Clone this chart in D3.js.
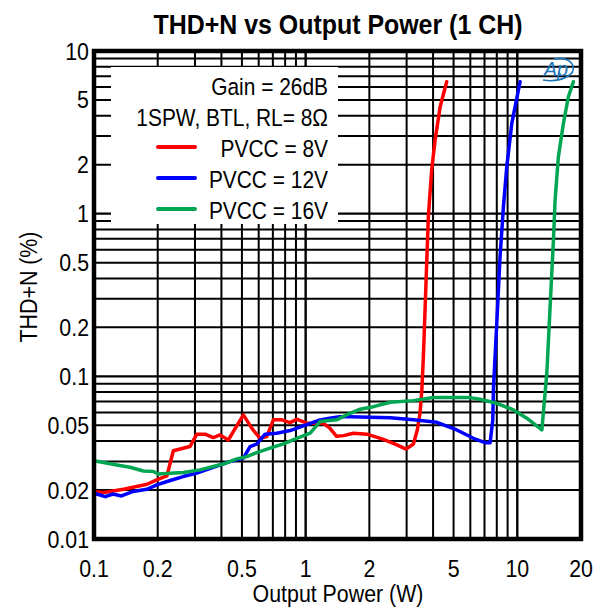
<!DOCTYPE html>
<html><head><meta charset="utf-8">
<script src="https://cdn.jsdelivr.net/npm/d3@7"></script>
<style>html,body{margin:0;padding:0;background:#fff;} svg{display:block;}</style>
</head><body>
<svg id="chart" width="606" height="608"></svg>
<script>
// ---------- data ----------
const titleText = "THD+N vs Output Power (1 CH)";
const xLabel = "Output Power (W)";
const yLabel = "THD+N (%)";
const xTickValues = [0.1, 0.2, 0.5, 1, 2, 5, 10, 20];
const xTickLabels = ["0.1", "0.2", "0.5", "1", "2", "5", "10", "20"];
const yTickValues = [0.01, 0.02, 0.05, 0.1, 0.2, 0.5, 1, 2, 5, 10];
const yTickLabels = ["0.01", "0.02", "0.05", "0.1", "0.2", "0.5", "1", "2", "5", "10"];
const xGridValues = [0.2, 0.3, 0.4, 0.5, 0.6, 0.7, 0.8, 0.9, 1, 2, 3, 4, 5, 6, 7, 8, 9, 10];
const yGridValues = [0.02, 0.03, 0.04, 0.05, 0.06, 0.07, 0.08, 0.09, 0.1,
                     0.2, 0.3, 0.4, 0.5, 0.6, 0.7, 0.8, 0.9, 1,
                     2, 3, 4, 5, 6, 7, 8, 9];
const legendNotes = ["Gain = 26dB", "1SPW, BTL, RL= 8Ω"];
const seriesNames = ["PVCC = 8V", "PVCC = 12V", "PVCC = 16V"];

// [output power W, THD+N %]
const pvcc8 = [
  [0.100,0.0196],[0.111,0.0193],[0.138,0.0202],[0.159,0.0210],[0.178,0.0217],
  [0.198,0.0231],[0.221,0.0244],[0.237,0.0349],[0.284,0.0370],[0.306,0.0441],
  [0.335,0.0441],[0.366,0.0420],[0.394,0.0436],[0.431,0.0406],[0.508,0.0579],
  [0.556,0.0480],[0.609,0.0416],[0.655,0.0426],[0.704,0.0540],[0.771,0.0540],
  [0.844,0.0519],[0.908,0.0545],[1.01,0.0515],[1.21,0.0515],[1.30,0.0480],
  [1.40,0.0428],[1.51,0.0432],[1.68,0.0447],[1.95,0.0441],[2.33,0.0410],
  [2.70,0.0379],[2.98,0.0357],[3.23,0.0384],[3.37,0.0468],[3.47,0.0593],
  [3.54,0.0825],[3.60,0.132],[3.67,0.268],[3.80,0.958],[3.94,1.856],
  [4.09,2.838],[4.32,4.545],[4.64,6.476]
];
const pvcc12 = [
  [0.100,0.0187],[0.103,0.0189],[0.113,0.0182],[0.123,0.0189],[0.135,0.0184],
  [0.153,0.0196],[0.178,0.0202],[0.198,0.0215],[0.229,0.0229],[0.264,0.0242],
  [0.306,0.0254],[0.366,0.0276],[0.439,0.0299],[0.508,0.0314],[0.546,0.0370],
  [0.587,0.0383],[0.643,0.0441],[0.730,0.0447],[0.844,0.0464],[0.975,0.0496],
  [1.17,0.0540],[1.30,0.0553],[1.45,0.0565],[1.62,0.0565],[2.51,0.0557],
  [3.23,0.0540],[4.17,0.0522],[5.18,0.0468],[6.20,0.0416],[7.04,0.0391],
  [7.44,0.0391],[7.66,0.0540],[7.71,0.0825],[8.00,0.212],[8.29,0.544],
  [8.60,1.104],[8.92,1.944],[9.42,3.594],[10.31,6.476]
];
const pvcc16 = [
  [0.100,0.0303],[0.111,0.0295],[0.128,0.0285],[0.148,0.0276],[0.171,0.0262],
  [0.191,0.0260],[0.201,0.0251],[0.229,0.0254],[0.264,0.0256],[0.317,0.0266],
  [0.366,0.0279],[0.408,0.0289],[0.473,0.0311],[0.527,0.0321],[0.587,0.0340],
  [0.679,0.0362],[0.785,0.0384],[0.908,0.0416],[1.05,0.0447],[1.17,0.0527],
  [1.26,0.0534],[1.40,0.0540],[1.56,0.0579],[1.81,0.0628],[2.09,0.0651],
  [2.51,0.0693],[3.23,0.0709],[4.01,0.0740],[5.98,0.0740],[6.67,0.0723],
  [8.00,0.0683],[9.59,0.0622],[11.09,0.0553],[13.06,0.0468],[13.79,0.1045],
  [14.29,0.268],[14.82,0.689],[15.09,1.214],[15.64,2.239],[16.52,3.594],
  [17.44,5.237],[18.41,6.476]
];
const seriesData = [pvcc8, pvcc12, pvcc16];

// ---------- styles / layout ----------
const colors = ["#ff0000", "#0000ff", "#00a651"];
const FONT = "'Liberation Sans', Arial, sans-serif";
const SX = 0.89; // horizontal condensation of text
const plot = {left: 94, right: 581, top: 51, bottom: 539};

const svg = d3.select("#chart");
const x = d3.scaleLog().domain([0.1, 20]).range([plot.left, plot.right]);
const y = d3.scaleLog().domain([0.01, 10]).range([plot.bottom, plot.top]);

function label(parent, tx, ty, str, opts = {}) {
  const g = parent.append("g")
    .attr("transform", `translate(${tx},${ty})${opts.rotate ? ` rotate(${opts.rotate})` : ""} scale(${SX},1)`);
  g.append("text")
    .attr("x", 0).attr("y", 0)
    .attr("text-anchor", opts.anchor || "middle")
    .attr("font-family", FONT)
    .attr("font-size", opts.size || 24)
    .attr("font-weight", opts.weight || "normal")
    .attr("fill", opts.fill || "#000")
    .text(str);
  return g;
}

// grid
const grid = svg.append("g");
grid.selectAll("line.vx").data(xGridValues).join("line")
  .attr("x1", d => x(d)).attr("x2", d => x(d))
  .attr("y1", plot.top).attr("y2", plot.bottom)
  .attr("stroke", "#000").attr("stroke-width", d => (d === 1 || d === 10) ? 2.4 : 2);
grid.selectAll("line.hy").data(yGridValues).join("line")
  .attr("y1", d => y(d)).attr("y2", d => y(d))
  .attr("x1", plot.left).attr("x2", plot.right)
  .attr("stroke", "#000").attr("stroke-width", d => (d === 0.1 || d === 1) ? 2.4 : 2);

// legend box (covers grid)
const leg = svg.append("g");
leg.append("rect").attr("x", 111).attr("y", 67).attr("width", 227).attr("height", 157).attr("fill", "#fff");
legendNotes.forEach((t, i) => label(leg, 328, 95 + i * 31, t, {anchor: "end", size: 23.5}));
seriesNames.forEach((t, i) => {
  const by = 157 + i * 31;
  leg.append("line").attr("x1", 158).attr("x2", 195).attr("y1", by - 10).attr("y2", by - 10)
    .attr("stroke", colors[i]).attr("stroke-width", 4).attr("stroke-linecap", "round");
  label(leg, 328, by, t, {anchor: "end", size: 23.5});
});

// curves
const line = d3.line().x(d => x(d[0])).y(d => y(d[1]));
svg.append("g").selectAll("path").data(seriesData).join("path")
  .attr("d", line)
  .attr("fill", "none")
  .attr("stroke", (d, i) => colors[i])
  .attr("stroke-width", 3.5)
  .attr("stroke-linejoin", "round")
  .attr("stroke-linecap", "round");

// frame
svg.append("rect")
  .attr("x", plot.left).attr("y", plot.top)
  .attr("width", plot.right - plot.left).attr("height", plot.bottom - plot.top)
  .attr("fill", "none").attr("stroke", "#000").attr("stroke-width", 4.5);

// tick labels
xTickValues.forEach((v, i) => label(svg, x(v), 577, xTickLabels[i], {size: 24}));
yTickValues.forEach((v, i) => label(svg, 89, y(v) + 8.5, yTickLabels[i], {anchor: "end", size: 24}));

// axis titles
label(svg, 338, 602, xLabel, {size: 24});
label(svg, 37, 287, yLabel, {size: 24, rotate: -90});

// title
label(svg, 338, 34, titleText, {size: 28, weight: "bold"});

// logo
const logo = svg.append("g");
logo.append("path")
  .attr("d", "M543,80 C560,83 576,75 573,66 C571,60 563,57 554,59")
  .attr("fill", "none").attr("stroke", "#1b75bb").attr("stroke-width", 1.6);
logo.append("text").attr("x", 556).attr("y", 76).attr("text-anchor", "middle")
  .attr("font-family", FONT).attr("font-size", 20).attr("font-style", "italic")
  .attr("fill", "#1b75bb").text("Ap");
</script>
</body></html>
